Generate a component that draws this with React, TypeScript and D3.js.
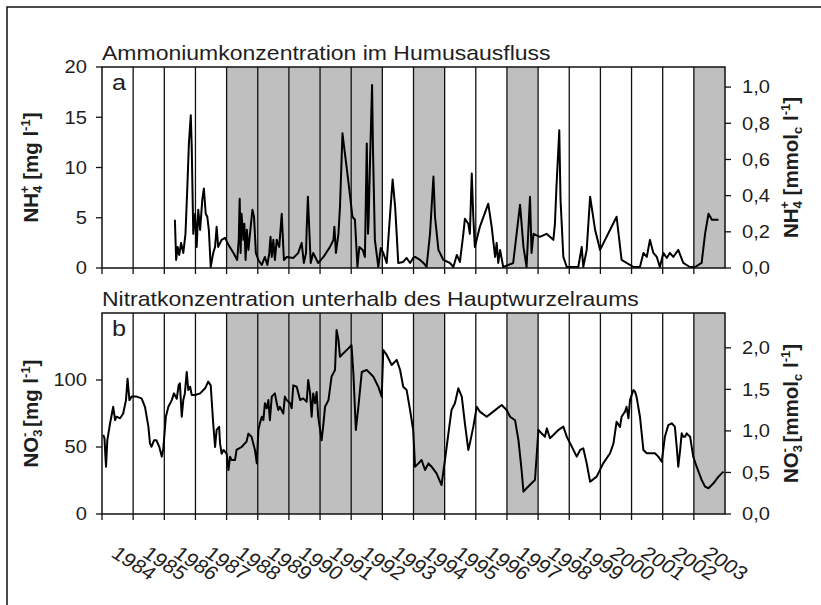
import * as d3 from "d3";

const yearLabels = ["1984", "1985", "1986", "1987", "1988", "1989", "1990", "1991", "1992", "1993", "1994", "1995", "1996", "1997", "1998", "1999", "2000", "2001", "2002", "2003"];
const shadedYears = [1988, 1989, 1990, 1991, 1992, 1994, 1997, 2003];

const nh4LeftTicks = [0, 5, 10, 15, 20];
const nh4RightTicks = [0, 0.2, 0.4, 0.6, 0.8, 1.0];
const no3LeftTicks = [0, 50, 100];
const no3RightTicks = [0, 0.5, 1.0, 1.5, 2.0];

// NH4+ in mg/l (decimal year)
const nh4Dates = [1986.34, 1986.38, 1986.43, 1986.48, 1986.54, 1986.61, 1986.68, 1986.74, 1986.79, 1986.85, 1986.88, 1986.93, 1986.99, 1987.04, 1987.09, 1987.15, 1987.22, 1987.27, 1987.33, 1987.38, 1987.43, 1987.49, 1987.57, 1987.63, 1987.68, 1987.73, 1987.84, 1987.95, 1988.06, 1988.22, 1988.34, 1988.39, 1988.42, 1988.45, 1988.48, 1988.54, 1988.57, 1988.61, 1988.65, 1988.70, 1988.75, 1988.83, 1988.88, 1988.94, 1989.02, 1989.13, 1989.23, 1989.31, 1989.37, 1989.41, 1989.45, 1989.50, 1989.55, 1989.61, 1989.69, 1989.77, 1989.84, 1989.93, 1990.14, 1990.30, 1990.41, 1990.48, 1990.55, 1990.57, 1990.61, 1990.66, 1990.70, 1990.78, 1990.94, 1991.11, 1991.32, 1991.43, 1991.46, 1991.51, 1991.59, 1991.64, 1991.72, 1991.77, 1991.85, 1991.94, 1992.04, 1992.12, 1992.20, 1992.26, 1992.37, 1992.44, 1992.50, 1992.54, 1992.56, 1992.60, 1992.67, 1992.70, 1992.76, 1992.87, 1992.95, 1993.03, 1993.14, 1993.22, 1993.33, 1993.41, 1993.46, 1993.51, 1993.67, 1993.78, 1993.89, 1993.99, 1994.05, 1994.21, 1994.32, 1994.42, 1994.53, 1994.64, 1994.69, 1994.80, 1994.96, 1995.17, 1995.28, 1995.39, 1995.49, 1995.60, 1995.65, 1995.76, 1995.81, 1995.87, 1995.92, 1995.97, 1996.13, 1996.40, 1996.51, 1996.62, 1996.67, 1996.72, 1996.78, 1996.88, 1997.20, 1997.42, 1997.53, 1997.63, 1997.74, 1997.79, 1997.85, 1998.06, 1998.27, 1998.38, 1998.49, 1998.54, 1998.59, 1998.68, 1998.72, 1998.81, 1998.92, 1999.29, 1999.40, 1999.45, 1999.56, 1999.67, 1999.83, 1999.99, 2000.52, 2000.68, 2000.84, 2001.06, 2001.27, 2001.38, 2001.49, 2001.59, 2001.70, 2001.81, 2001.91, 2002.02, 2002.13, 2002.23, 2002.34, 2002.50, 2002.66, 2002.87, 2003.04, 2003.25, 2003.36, 2003.47, 2003.58, 2003.68, 2003.79];
const nh4Values = [4.8, 0.8, 2.1, 1.3, 2.5, 1.5, 3.4, 8.1, 12.4, 15.2, 12.1, 3.4, 5.4, 2.1, 5.8, 3.8, 6.8, 7.9, 5.4, 5.1, 3.8, 0.1, 1.5, 2.1, 4.1, 2.1, 2.8, 3.0, 2.3, 1.5, 0.8, 2.8, 6.9, 1.5, 5.4, 2.8, 4.4, 0.8, 3.8, 1.8, 3.4, 5.8, 5.1, 1.5, 0.8, 0.3, 1.1, 0.3, 1.5, 3.1, 1.1, 2.8, 0.8, 2.8, 2.1, 5.4, 0.8, 1.1, 1.0, 1.5, 2.5, 0.5, 1.5, 3.8, 7.1, 3.4, 0.5, 1.5, 0.5, 1.1, 2.1, 2.8, 4.1, 1.5, 3.4, 6.1, 13.4, 12.1, 10.1, 7.8, 5.1, 4.8, 0.1, 2.1, 1.8, 1.1, 12.4, 3.4, 4.8, 10.1, 18.2, 11.7, 2.8, 0.1, 2.0, 1.5, 0.5, 4.1, 8.8, 6.1, 3.4, 0.5, 0.6, 1.0, 0.5, 1.0, 1.1, 0.8, 0.5, 0.1, 3.4, 9.1, 5.1, 1.8, 0.8, 0.5, 0.1, 1.3, 0.6, 3.4, 4.9, 4.4, 3.4, 9.4, 5.1, 2.1, 4.1, 6.4, 4.1, 1.1, 2.5, 0.5, 1.8, 0.1, 0.5, 6.3, 2.1, 0.1, 7.1, 1.5, 3.4, 3.1, 3.4, 3.1, 2.8, 4.4, 8.1, 13.7, 6.8, 1.1, 0.1, 0.1, 2.1, 0.1, 1.8, 7.1, 3.8, 1.8, 5.1, 0.8, 0.5, 0.1, 0.1, 1.5, 1.1, 2.8, 1.5, 1.1, 0.1, 1.5, 1.0, 1.5, 1.1, 1.8, 0.5, 0.1, 0.1, 0.5, 3.4, 5.4, 4.8, 4.8, 4.8];

// NO3- in mg/l (decimal year)
const no3Dates = [1984.04, 1984.08, 1984.11, 1984.13, 1984.17, 1984.26, 1984.36, 1984.42, 1984.47, 1984.58, 1984.68, 1984.77, 1984.82, 1984.88, 1984.95, 1985.11, 1985.27, 1985.38, 1985.49, 1985.54, 1985.59, 1985.67, 1985.75, 1985.84, 1985.92, 1985.97, 1986.05, 1986.13, 1986.24, 1986.31, 1986.40, 1986.46, 1986.50, 1986.56, 1986.61, 1986.66, 1986.72, 1986.77, 1986.83, 1986.88, 1986.99, 1987.15, 1987.31, 1987.41, 1987.49, 1987.57, 1987.63, 1987.68, 1987.76, 1987.79, 1987.84, 1987.90, 1988.00, 1988.06, 1988.11, 1988.16, 1988.27, 1988.32, 1988.48, 1988.64, 1988.70, 1988.80, 1988.91, 1988.97, 1989.02, 1989.07, 1989.13, 1989.18, 1989.23, 1989.29, 1989.34, 1989.39, 1989.45, 1989.55, 1989.61, 1989.66, 1989.71, 1989.82, 1989.87, 1989.93, 1990.04, 1990.09, 1990.14, 1990.25, 1990.36, 1990.46, 1990.57, 1990.62, 1990.68, 1990.73, 1990.78, 1990.84, 1990.89, 1990.94, 1991.05, 1991.11, 1991.16, 1991.27, 1991.37, 1991.48, 1991.53, 1991.59, 1991.64, 1991.75, 1991.91, 1992.01, 1992.07, 1992.15, 1992.23, 1992.34, 1992.50, 1992.71, 1992.87, 1992.98, 1993.03, 1993.14, 1993.30, 1993.46, 1993.57, 1993.67, 1993.78, 1993.89, 1993.99, 1994.05, 1994.16, 1994.26, 1994.37, 1994.48, 1994.58, 1994.74, 1994.90, 1995.01, 1995.12, 1995.22, 1995.33, 1995.44, 1995.55, 1995.65, 1995.76, 1995.81, 1995.92, 1996.03, 1996.13, 1996.35, 1996.56, 1996.83, 1996.99, 1997.10, 1997.26, 1997.37, 1997.47, 1997.53, 1997.63, 1997.79, 1997.90, 1998.01, 1998.11, 1998.22, 1998.28, 1998.38, 1998.49, 1998.65, 1998.81, 1998.92, 1999.03, 1999.24, 1999.35, 1999.45, 1999.56, 1999.67, 1999.88, 2000.09, 2000.31, 2000.42, 2000.52, 2000.63, 2000.68, 2000.79, 2000.84, 2000.90, 2000.95, 2001.06, 2001.11, 2001.16, 2001.27, 2001.38, 2001.49, 2001.65, 2001.75, 2001.86, 2001.97, 2002.07, 2002.18, 2002.29, 2002.39, 2002.45, 2002.50, 2002.56, 2002.61, 2002.66, 2002.72, 2002.77, 2002.82, 2002.88, 2002.98, 2003.09, 2003.25, 2003.36, 2003.47, 2003.63, 2003.79, 2003.95];
const no3Values = [59, 56.5, 42.8, 35.3, 55, 67.7, 80, 70, 72.6, 71.4, 75, 85, 101, 85, 87.6, 87.6, 86.3, 80, 65, 52.7, 50.2, 55, 55, 50, 42.8, 49, 72.6, 80, 85, 90, 86, 96, 97.5, 72.6, 85, 90, 106, 92.5, 95, 88.8, 88.8, 90, 93.8, 98.8, 96, 67.7, 50, 62.7, 65, 52.7, 45, 47.8, 45, 32.8, 42.8, 40.3, 40.3, 47.8, 50, 54, 60, 57.7, 47.8, 37.8, 62.7, 67.7, 72.6, 70, 82.6, 78.9, 85, 70, 87.6, 90, 82.6, 77.6, 80, 75, 87.6, 85, 82.6, 78.9, 96, 95, 85, 86.3, 83.8, 100, 90, 72.6, 90, 82.6, 91, 72.6, 55, 67.7, 80, 85, 102.5, 107.5, 137.3, 130, 117.4, 120, 123.6, 126, 105, 62.7, 80, 106, 107.5, 102.5, 95, 87.6, 122.4, 118.7, 111.2, 115, 107.5, 95, 92.5, 77.6, 62.7, 35.3, 37.8, 40.3, 32.8, 37.8, 35.3, 30.3, 21.6, 40.3, 60, 77.6, 82.6, 93.8, 87.6, 67.7, 47.8, 52.7, 65, 80, 76.4, 72.6, 76.4, 81.3, 77.6, 72.6, 70, 55, 32.8, 16.7, 19.2, 22.9, 25.4, 62.7, 60.2, 57.7, 63.9, 56.5, 59, 62.7, 65.2, 57.7, 52.7, 42.8, 47.8, 49, 37.8, 24.1, 27.9, 37.8, 45.3, 52.7, 68.9, 65, 72.6, 76.4, 80, 71.4, 85, 92.5, 91.3, 87.6, 72.6, 47.8, 45.3, 45.3, 45.3, 42.8, 39, 57.7, 66.4, 67.7, 65.2, 50.2, 35.3, 47.8, 60.2, 57.7, 57.7, 60.2, 59, 57.7, 42.8, 35.3, 25.4, 20.4, 19.2, 22.9, 27.9, 31.6];

const W = 821;
const H = 605;
const SX = 1.15;
const FONT = "Arial, 'Liberation Sans', sans-serif";
const TXT = "#1e1e1e";
const GRAY = "#bfbfbf";

const x = d3.scaleLinear().domain([1984, 2004]).range([102, 725]);
const fmtComma = (v: number) => d3.format(".1f")(v).replace(".", ",");

interface PanelProps {
  top: number;
  bottom: number;
  yMax: number;
  molar: number;
  dates: number[];
  values: number[];
  leftTicks: number[];
  rightTicks: number[];
  title: string;
  letter: string;
  leftLabel: React.ReactNode;
  rightLabel: React.ReactNode;
}

function Panel({ top, bottom, yMax, molar, dates, values, leftTicks, rightTicks, title, letter, leftLabel, rightLabel }: PanelProps) {
  const y = d3.scaleLinear().domain([0, yMax]).range([bottom, top]);
  const yR = d3.scaleLinear().domain([0, yMax / molar]).range([bottom, top]);
  const pts = dates.map((d, i) => [d, values[i]] as [number, number]);
  const line = d3.line<[number, number]>().x((d) => x(d[0])).y((d) => y(d[1]));
  const [x0, x1] = x.range();
  const cy = (top + bottom) / 2;
  const boundaries = d3.range(1984, 2004);

  return (
    <g>
      <text transform={`translate(${x0},${top - 7}) scale(${SX},1)`} fontSize={20} fill={TXT} fontFamily={FONT}>{title}</text>
      {shadedYears.map((yr) => (
        <rect key={yr} x={x(yr)} y={top} width={x(yr + 1) - x(yr)} height={bottom - top} fill={GRAY} />
      ))}
      {boundaries.slice(1).map((yr) => (
        <line key={yr} x1={x(yr)} x2={x(yr)} y1={top} y2={bottom} stroke="#111" strokeWidth={1.3} />
      ))}
      <path d={line(pts) ?? ""} fill="none" stroke="#000" strokeWidth={2} strokeLinejoin="round" />
      <rect x={x0} y={top} width={x1 - x0} height={bottom - top} fill="none" stroke="#111" strokeWidth={1.5} />
      {boundaries.map((yr) => (
        <line key={yr} x1={x(yr)} x2={x(yr)} y1={bottom} y2={bottom + 6} stroke="#111" strokeWidth={1.3} />
      ))}
      {leftTicks.map((t) => (
        <g key={t}>
          <line x1={x0 - 6} x2={x0} y1={y(t)} y2={y(t)} stroke="#111" strokeWidth={1.3} />
          <text transform={`translate(${x0 - 15},${y(t)}) scale(${SX},1)`} dy="0.36em" textAnchor="end" fontSize={17.5} fill={TXT} fontFamily={FONT}>{t}</text>
        </g>
      ))}
      {rightTicks.map((t) => (
        <g key={t}>
          <line x1={x1} x2={x1 + 6} y1={yR(t)} y2={yR(t)} stroke="#111" strokeWidth={1.3} />
          <text transform={`translate(${x1 + 17},${yR(t)}) scale(${SX},1)`} dy="0.36em" fontSize={17.5} fill={TXT} fontFamily={FONT}>{fmtComma(t)}</text>
        </g>
      ))}
      <text transform={`translate(${x0 + 10},${top + 23}) scale(${SX},1)`} fontSize={22} fill={TXT} fontFamily={FONT}>{letter}</text>
      <text transform={`translate(38,${cy}) rotate(-90)`} textAnchor="middle" fontSize={20.5} fontWeight="bold" fill={TXT} fontFamily={FONT}>{leftLabel}</text>
      <text transform={`translate(798,${cy}) rotate(-90)`} textAnchor="middle" fontSize={20.5} fontWeight="bold" fill={TXT} fontFamily={FONT}>{rightLabel}</text>
    </g>
  );
}

const SUP = 13;

const ion = (base: string, low: string, high: string) => (
  <>
    {base}
    <tspan fontSize={SUP} dy={4}>{low}</tspan>
    <tspan fontSize={SUP} dx={-7.5} dy={-13}>{high}</tspan>
  </>
);

const mgUnit = (
  <>
    <tspan dy={9}> [mg l</tspan>
    <tspan fontSize={SUP} dy={-8}>-1</tspan>
    <tspan dy={8}>]</tspan>
  </>
);

const mmolUnit = (
  <>
    <tspan dy={9}> [mmol</tspan>
    <tspan fontSize={SUP} dy={4}>c</tspan>
    <tspan dy={-4}> l</tspan>
    <tspan fontSize={SUP} dy={-8}>-1</tspan>
    <tspan dy={8}>]</tspan>
  </>
);

export default function App() {
  return (
    <svg width={W} height={H} style={{ position: "absolute", left: 0, top: 0, background: "#fff" }}>
      <rect x={7} y={7} width={900} height={700} fill="#fff" stroke="#111" strokeWidth={1.5} />
      <Panel
        top={67}
        bottom={268}
        yMax={20}
        molar={18}
        dates={nh4Dates}
        values={nh4Values}
        leftTicks={nh4LeftTicks}
        rightTicks={nh4RightTicks}
        title="Ammoniumkonzentration im Humusausfluss"
        letter="a"
        leftLabel={<>{ion("NH", "4", "+")}{mgUnit}</>}
        rightLabel={<>{ion("NH", "4", "+")}{mmolUnit}</>}
      />
      <Panel
        top={313}
        bottom={514}
        yMax={150}
        molar={62}
        dates={no3Dates}
        values={no3Values}
        leftTicks={no3LeftTicks}
        rightTicks={no3RightTicks}
        title="Nitratkonzentration unterhalb des Hauptwurzelraums"
        letter="b"
        leftLabel={<>{ion("NO", "3", "-")}{mgUnit}</>}
        rightLabel={<>{ion("NO", "3", "-")}{mmolUnit}</>}
      />
      {yearLabels.map((lab, i) => (
        <text key={lab} transform={`translate(${x(1984 + i) + 8},556) scale(${SX},1) rotate(36)`} fontSize={19} fill={TXT} fontFamily={FONT}>{lab}</text>
      ))}
    </svg>
  );
}
